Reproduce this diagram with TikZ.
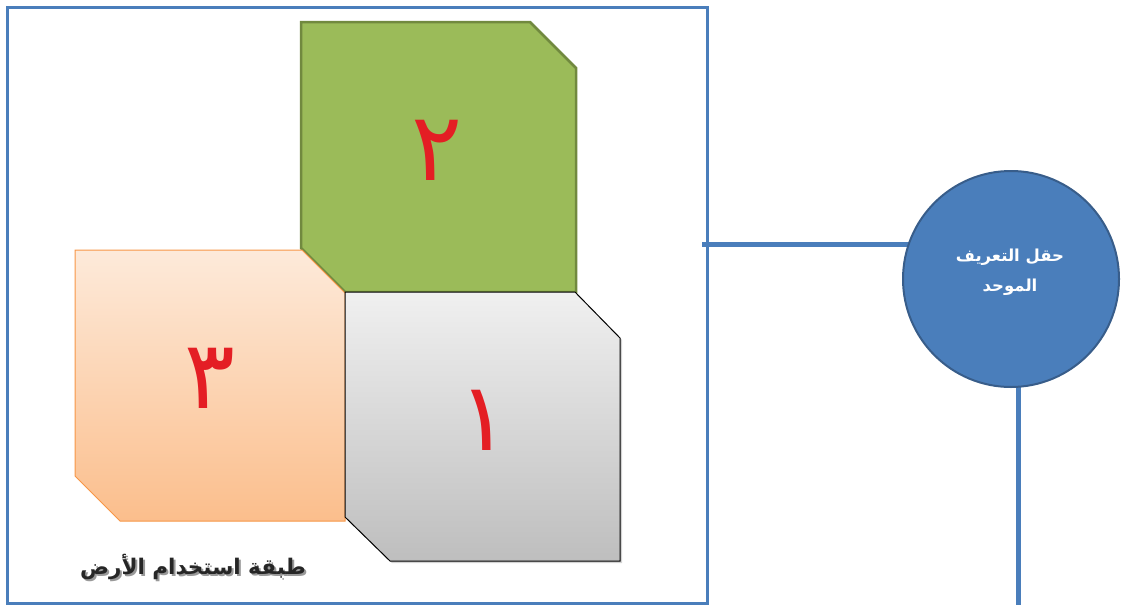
\documentclass[tikz,border=0pt]{standalone}
\usepackage{fontspec}
\TeXXeTstate=1
\newfontfamily\arabicfont[Script=Arabic]{DejaVu Sans}
\usetikzlibrary{shadows,backgrounds}
\definecolor{frameblue}{RGB}{74,126,187}
\definecolor{circfill}{RGB}{74,126,187}
\definecolor{circline}{RGB}{56,93,138}
\definecolor{greenfill}{RGB}{155,187,89}
\definecolor{greenline}{RGB}{113,137,63}
\definecolor{orangetop}{RGB}{253,234,218}
\definecolor{orangebot}{RGB}{251,190,140}
\definecolor{orangeline}{RGB}{247,150,70}
\definecolor{graytop}{RGB}{240,240,240}
\definecolor{graybot}{RGB}{190,190,190}
\definecolor{digitred}{RGB}{228,30,36}
\tikzset{
  framebox/.style={draw=frameblue, line width=3pt, inner sep=0pt},
  conn/.style={draw=frameblue, line width=5pt},
  digit/.style={text=digitred, font=\arabicfont\fontsize{95}{100}\selectfont, inner sep=0pt},
  greenshape/.style={fill=greenfill, draw=greenline, line width=2.5pt, line join=miter},
  orangeshape/.style={top color=orangetop, bottom color=orangebot, draw=orangeline, line width=1pt},
  grayshape/.style={top color=graytop, bottom color=graybot, draw=black, line width=1pt,
    drop shadow={shadow xshift=2pt, shadow yshift=-2pt, opacity=0.35}},
  bubble/.style={circle, fill=circfill, draw=circline, line width=2pt, minimum size=216pt, inner sep=0pt},
  bubbletext/.style={text=white, font=\arabicfont\bfseries\fontsize{16.5}{30}\selectfont, align=center},
  layerlabel/.style={font=\arabicfont\bfseries\fontsize{21.5}{26}\selectfont, inner sep=0pt}
}
\begin{document}
\begin{tikzpicture}[x=1pt,y=-1pt]
\useasboundingbox (0,0) rectangle (1123,605);
% frame
\node[framebox, minimum width=700pt, minimum height=596pt] (frame) at (357,305) {};
% circle and connectors
\coordinate (hstart) at (702,244);
\coordinate (vend) at (1018,605);
\node[bubble] (circ) at (1011,279) {};
\begin{scope}[on background layer]
\draw[conn] (hstart) -- (hstart -| circ.center);
\draw[conn] (vend |- circ.center) -- (vend);
\end{scope}
\node[bubbletext] (circtext) at (1010,272) {\beginR حقل التعريف\endR\\\beginR الموحد\endR};
% shapes
\path[greenshape] (301,22) -- (530,22) -- (576,68) -- (576,292) -- (345,292) -- (301,248) -- cycle;
\path[orangeshape] (75,250) -- (302,250) -- (345,293) -- (345,521) -- (120,521) -- (75,476) -- cycle;
\path[grayshape] (345,292) -- (575,292) -- (620,338) -- (620,561) -- (390,561) -- (345,517) -- cycle;
% digits
\node[digit] (d2) at (437,150) {\beginR ٢\endR};
\node[digit] (d3) at (210,378) {\beginR ٣\endR};
\node[digit] (d1) at (484,420) {\beginR ١\endR};
% label
\node[layerlabel, text=black!40] (labelshadow) at (195,569) {\beginR طبقة استخدام الأرض\endR};
\node[layerlabel, text=black!85] (label) at (193,567) {\beginR طبقة استخدام الأرض\endR};
\end{tikzpicture}
\end{document}
